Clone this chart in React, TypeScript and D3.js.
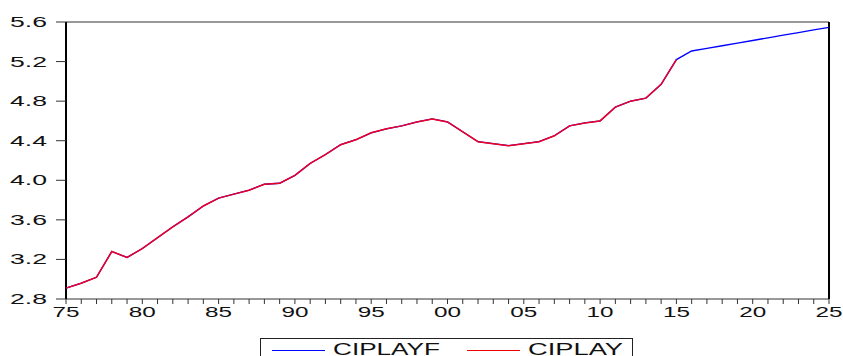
import React from 'react';
import * as d3 from 'd3';

// CIPLAY (actual) 1975-2015, CIPLAYF = actual + forecast to 2025
const startYear = 1975;
const endYear = 2025;
const ciplay = [
  2.91, 2.96, 3.02, 3.28, 3.22, 3.31, 3.42, 3.53, 3.63, 3.74,
  3.82, 3.86, 3.90, 3.96, 3.97, 4.05, 4.17, 4.26, 4.36, 4.41,
  4.48, 4.52, 4.55, 4.59, 4.62, 4.59, 4.49, 4.39, 4.37, 4.35,
  4.37, 4.39, 4.45, 4.55, 4.58, 4.60, 4.74, 4.80, 4.83, 4.97,
  5.22,
];
const forecastTail = [5.307, 5.334, 5.360, 5.387, 5.413, 5.440, 5.467, 5.493, 5.520, 5.546];
const ciplayf = ciplay.concat(forecastTail);

const yTicks = [2.8, 3.2, 3.6, 4.0, 4.4, 4.8, 5.2, 5.6];
const xMajor = [1975, 1980, 1985, 1990, 1995, 2000, 2005, 2010, 2015, 2020, 2025];

const W = 843, H = 356;
const left = 66, right = 829, top = 22, bottom = 299;
const font = '"Liberation Sans", Arial, sans-serif';

export default function App() {
  const x = d3.scaleLinear().domain([startYear, endYear]).range([left, right]);
  const y = d3.scaleLinear().domain([2.8, 5.6]).range([bottom, top]);

  const line = d3.line<number>()
    .x((_, i) => x(startYear + i))
    .y((d) => y(d));

  const years = d3.range(startYear, endYear + 1);

  return (
    <svg width={W} height={H} style={{ position: 'absolute', left: 0, top: 0, background: '#fff' }}>
      {/* frame */}
      <line x1={left} x2={right} y1={top} y2={top} stroke="#333" strokeWidth={1} />
      <line x1={left} x2={right} y1={bottom} y2={bottom} stroke="#333" strokeWidth={1} />
      <line x1={left} x2={left} y1={top} y2={bottom} stroke="#000" strokeWidth={2} />
      <line x1={right} x2={right} y1={top} y2={bottom} stroke="#000" strokeWidth={2} />

      {/* y axis */}
      {yTicks.map((t) => (
        <g key={t}>
          <line x1={left - 10} x2={left} y1={y(t)} y2={y(t)} stroke="#333" strokeWidth={1} />
          <text x={47} y={y(t)} dy="0.36em" textAnchor="end" fontFamily={font} fontSize={14}
            textLength={37} lengthAdjust="spacingAndGlyphs" fill="#111">
            {t.toFixed(1)}
          </text>
        </g>
      ))}

      {/* x axis */}
      {years.map((yr) => (
        <line key={yr} x1={x(yr)} x2={x(yr)} y1={bottom} y2={bottom + 5} stroke="#333" strokeWidth={1} />
      ))}
      {xMajor.map((yr) => (
        <text key={yr} x={x(yr)} y={317} textAnchor="middle" fontFamily={font} fontSize={14}
          textLength={27} lengthAdjust="spacingAndGlyphs" fill="#111">
          {String(yr % 100).padStart(2, '0')}
        </text>
      ))}

      {/* series */}
      <path d={line(ciplayf) || ''} fill="none" stroke="#0000ff" strokeWidth={1.3} />
      <path d={line(ciplay) || ''} fill="none" stroke="#ee0022" strokeWidth={1.5} />

      {/* legend */}
      <rect x={260.5} y={338.5} width={372} height={30} fill="#fff" stroke="#222" strokeWidth={1} />
      <line x1={272} x2={325} y1={350.5} y2={350.5} stroke="#0000ff" strokeWidth={1} />
      <text x={333} y={354.5} fontFamily={font} fontSize={16} textLength={107}
        lengthAdjust="spacingAndGlyphs" fill="#111">CIPLAYF</text>
      <line x1={467} x2={520} y1={350.5} y2={350.5} stroke="#ee0000" strokeWidth={1} />
      <text x={528} y={354.5} fontFamily={font} fontSize={16} textLength={95}
        lengthAdjust="spacingAndGlyphs" fill="#111">CIPLAY</text>
    </svg>
  );
}
